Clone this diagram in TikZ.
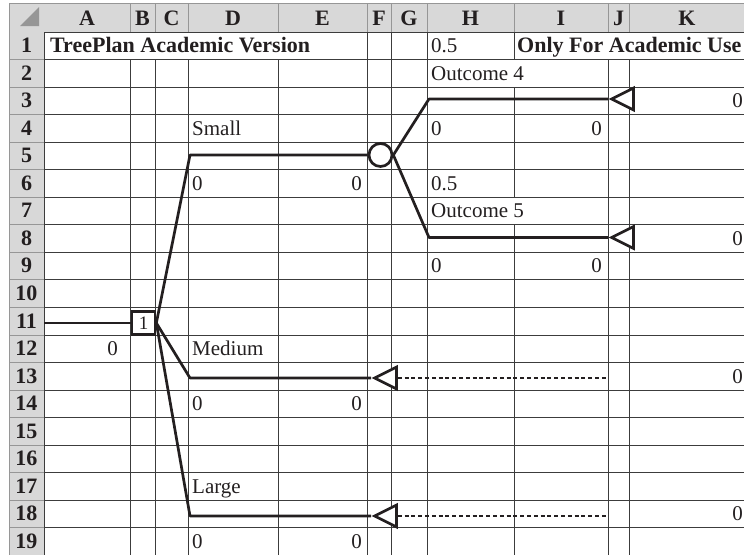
\documentclass[tikz,border=0pt]{standalone}
\usepackage{fontspec}
\setmainfont{Liberation Serif}
\usepackage{tikz}
\usetikzlibrary{shapes.geometric,positioning,calc}
\definecolor{inkblack}{RGB}{35,31,32}
\definecolor{hdrfill}{RGB}{216,216,216}
\definecolor{hdrline}{RGB}{150,150,150}
\definecolor{gridline}{RGB}{60,60,60}
\newcommand{\rowbase}[1]{25+#1*27.55}
\newcommand{\rowedge}[1]{32+#1*27.55}

\begin{document}
\begin{tikzpicture}[x=1pt,y=-1pt,
  cell/.style={font=\fontsize{21}{24}\selectfont,text=inkblack,inner sep=0pt},
  hdr/.style={cell,font=\fontsize{22}{25}\selectfont\bfseries},
  lcell/.style={cell,anchor=base west},
  rcell/.style={cell,anchor=base east},
  grd/.style={draw=gridline,line width=1pt},
  branch/.style={draw=inkblack,line width=2.7pt,line join=round},
  endline/.style={draw=inkblack,line width=2.3pt,dash pattern=on 4pt off 2.8pt},
  decbox/.style={rectangle,draw=inkblack,line width=2.7pt,fill=white,minimum size=23pt,
                 inner sep=0pt,font=\fontsize{19}{22}\selectfont,text=inkblack},
  chancenode/.style={circle,draw=inkblack,line width=2.7pt,fill=white,minimum size=23pt,inner sep=0pt},
  termnode/.style={isosceles triangle,shape border rotate=180,isosceles triangle stretches,
                   draw=inkblack,line width=2.7pt,fill=white,minimum width=22pt,minimum height=22pt,
                   inner sep=0pt,anchor=apex}
]
\useasboundingbox (0,0) rectangle (744,554);
\clip (0,0) rectangle (744,554);

% sheet headers
\fill[hdrfill] (9,3) rectangle (760,32);
\fill[hdrfill] (9,32) rectangle (44,560);
\draw[hdrline,line width=1pt] (9,3) -- (760,3);
\draw[hdrline,line width=1pt] (9,3) -- (9,560);
\foreach \cx in {130,155,188,278,367,391,427,514,608,629}
  \draw[hdrline,line width=1pt] (\cx,3) -- (\cx,32);
\foreach \r in {1,...,19}
  \draw[hdrline,line width=1pt] (9,{\rowedge{\r}}) -- (44,{\rowedge{\r}});
\fill[hdrline] (20,26) -- (39,26) -- (39,7) -- cycle;
\foreach \lbl/\cx in {A/87,B/142.5,C/171.5,D/233,E/322.5,F/379,G/409,H/470.5,I/561,J/618.5,K/687}
  \node[hdr,anchor=base] (col\lbl) at (\cx,25.5) {\lbl};
\foreach \r in {1,...,19}
  \node[hdr,anchor=base] (row\r) at (26.5,{\rowbase{\r}}) {\r};

% grid
\foreach \r in {0,...,19}
  \draw[grd] (44,{\rowedge{\r}}) -- (760,{\rowedge{\r}});
\foreach \cx in {44,367,391,427}
  \draw[grd] (\cx,32) -- (\cx,560);
\foreach \cx in {130,155,188,278,608,629}
  \draw[grd] (\cx,{\rowedge{1}}) -- (\cx,560);
\draw[grd] (514,32) -- (514,{\rowedge{1}});
\draw[grd] (514,{\rowedge{2}}) -- (514,{\rowedge{6}});
\draw[grd] (514,{\rowedge{7}}) -- (514,560);

% cell texts
\node[hdr,anchor=base west] (title) at (50,{\rowbase{1}}) {TreePlan Academic Version};
\node[hdr,anchor=base west] (note) at (517,{\rowbase{1}}) {Only For Academic Use};
\node[lcell] (probA) at (431,{\rowbase{1}}) {0.5};
\node[lcell] (outA) at (431,{\rowbase{2}}) {Outcome 4};
\node[lcell] (smallL) at (192,{\rowbase{4}}) {Small};
\node[lcell] (valHa) at (431,{\rowbase{4}}) {0};
\node[rcell] (valIa) at (602,{\rowbase{4}}) {0};
\node[lcell] (valDa) at (192,{\rowbase{6}}) {0};
\node[rcell] (valEa) at (362,{\rowbase{6}}) {0};
\node[lcell] (probB) at (431,{\rowbase{6}}) {0.5};
\node[lcell] (outB) at (431,{\rowbase{7}}) {Outcome 5};
\node[lcell] (valHb) at (431,{\rowbase{9}}) {0};
\node[rcell] (valIb) at (602,{\rowbase{9}}) {0};
\node[rcell] (rootval) at (118,{\rowbase{12}}) {0};
\node[lcell] (medL) at (192,{\rowbase{12}}) {Medium};
\node[lcell] (valDb) at (192,{\rowbase{14}}) {0};
\node[rcell] (valEb) at (362,{\rowbase{14}}) {0};
\node[lcell] (largeL) at (192,{\rowbase{17}}) {Large};
\node[lcell] (valDc) at (192,{\rowbase{19}}) {0};
\node[rcell] (valEc) at (362,{\rowbase{19}}) {0};
\foreach \r in {3,8,13,18}
  \node[rcell] (endK\r) at (743,{\rowbase{\r}}) {0};

% tree
\coordinate (root) at (44,323);
\coordinate (smallc) at (190,155);
\coordinate (o4c) at (429,99);
\coordinate (o5c) at (429,237.5);
\coordinate (medc) at (190,378);
\coordinate (largec) at (190,516);
\coordinate (medend) at (608,378);
\coordinate (largeend) at (608,516);
\node[decbox] (dec) at (143.5,323) {1};
\node[chancenode] (chn) at (380.5,155) {};
\node[termnode] (t4) at (608,99) {};
\node[termnode] (t5) at (608,237.5) {};
\node[termnode] (tmed) at (371,378) {};
\node[termnode] (tlarge) at (371,516) {};

\draw[branch] (root) -- (dec);
\draw[branch] (dec.east) -- (smallc) -- (chn);
\draw[branch] (chn.east) -- (o4c) -- (t4);
\draw[branch] (chn.east) -- (o5c) -- (t5);
\draw[branch] (dec.east) -- (medc) -- (tmed);
\draw[branch] (dec.east) -- (largec) -- (tlarge);
\draw[endline] (tmed.lower side) -- (medend);
\draw[endline] (tlarge.lower side) -- (largeend);
\end{tikzpicture}
\end{document}
